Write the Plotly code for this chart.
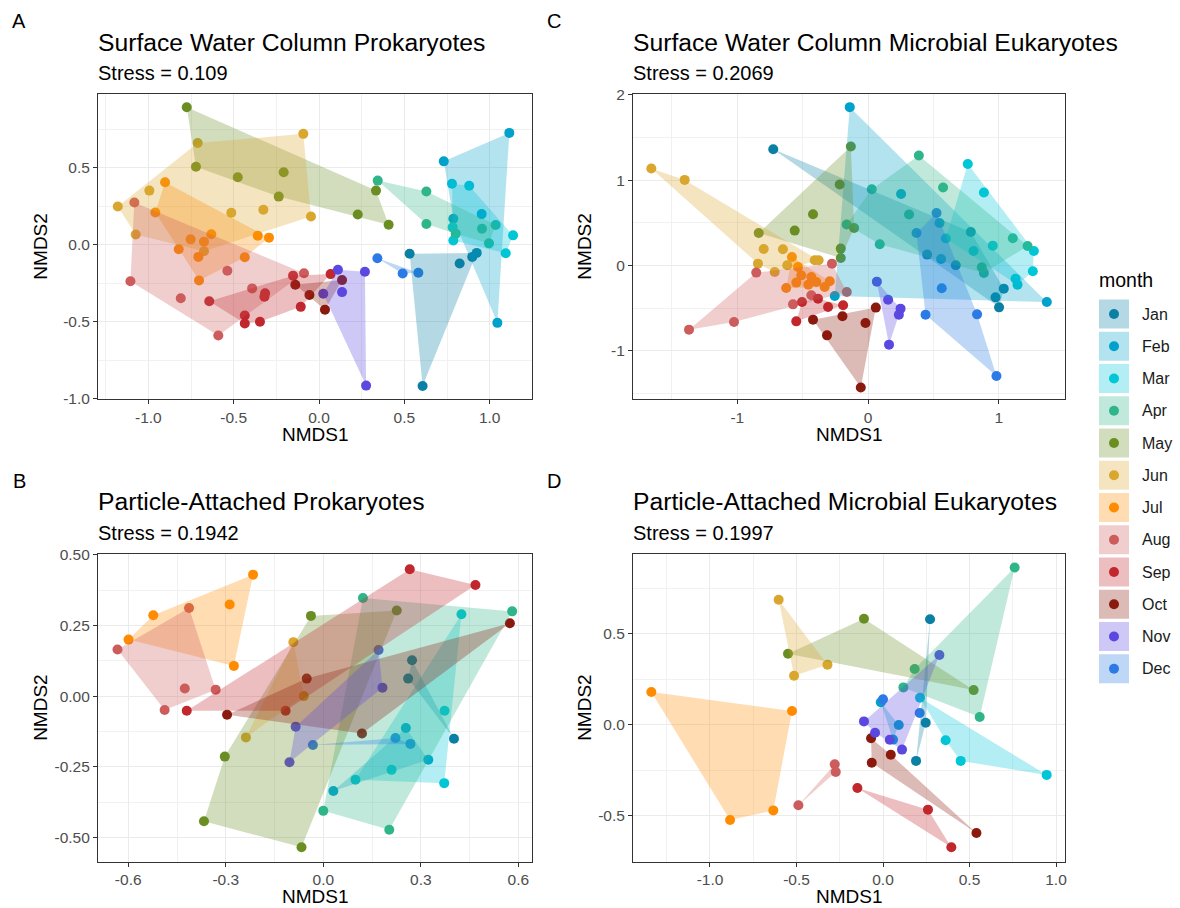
import plotly.graph_objects as go

MONTHS = ["Jan", "Feb", "Mar", "Apr", "May", "Jun", "Jul", "Aug", "Sep", "Oct", "Nov", "Dec"]
COLORS = ["#0A80A4", "#00A1CB", "#00C6D6", "#2EB68A", "#6B8E23", "#D9A62E",
          "#FF8C00", "#CD5C5C", "#C1272D", "#8B1A0E", "#5B48E0", "#2B7AE6"]

# ---------------- Panel A : Surface Water Column Prokaryotes ----------------
A_month = (["Jan"] * 5 + ["Feb"] * 5 + ["Mar"] * 6 + ["Apr"] * 7 + ["May"] * 8 + ["Jun"] * 9 +
           ["Jul"] * 11 + ["Aug"] * 7 + ["Sep"] * 9 + ["Oct"] * 4 + ["Nov"] * 5 + ["Dec"] * 3)
A_nmds1 = [0.531, 0.607, 0.898, 0.924, 0.824,
           0.731, 1.115, 1.045, 0.787, 0.953,
           0.779, 0.880, 1.137, 1.094, 0.787, 0.783,
           0.344, 0.629, 0.629, 0.801, 0.955, 1.035, 0.996,
           -0.775, -0.721, -0.476, -0.207, -0.236, 0.334, 0.227, 0.408,
           -0.711, -0.092, -0.047, -0.994, -1.179, -1.074, -0.514, -0.326, -0.674,
           -0.902, -0.959, -0.631, -0.752, -0.674, -0.822, -0.707, -0.435, -0.703, -0.359, -0.293,
           -1.082, -1.105, -0.810, -0.590, -0.537, -0.392, -0.088,
           -0.643, -0.435, -0.435, -0.346, -0.316, -0.320, -0.152, -0.107, 0.068,
           -0.139, -0.056, 0.035, 0.135,
           0.111, 0.269, 0.135, 0.025, 0.276,
           0.342, 0.490, 0.582]
A_nmds2 = [-0.058, -0.917, -0.078, -0.052, -0.121,
           0.543, 0.728, -0.507, 0.170, 0.200,
           0.397, 0.384, 0.062, -0.054, 0.028, 0.114,
           0.418, 0.347, 0.136, 0.073, 0.105, 0.129, 0.010,
           0.895, 0.508, 0.440, 0.472, 0.314, 0.353, 0.198, 0.131,
           0.662, 0.722, 0.185, 0.353, 0.250, 0.067, 0.209, 0.228, -0.041,
           0.407, 0.211, 0.069, 0.036, 0.021, -0.028, -0.078, -0.080, -0.231, 0.060, 0.047,
           0.276, -0.237, -0.347, -0.589, -0.168, -0.283, -0.184,
           -0.367, -0.459, -0.511, -0.500, -0.315, -0.337, -0.200, -0.403, -0.190,
           -0.259, -0.326, -0.421, -0.229,
           -0.162, -0.175, -0.307, -0.318, -0.915,
           -0.087, -0.186, -0.181]

# ---------------- Panel C : Surface Water Column Microbial Eukaryotes ----------------
C_month = (["Jan"] * 7 + ["Feb"] * 6 + ["Mar"] * 9 + ["Apr"] * 10 + ["May"] * 8 + ["Jun"] * 9 +
           ["Jul"] * 10 + ["Aug"] * 7 + ["Sep"] * 5 + ["Oct"] * 6 + ["Nov"] * 5 + ["Dec"] * 6)
C_nmds1 = [-0.725, 0.451, 0.670, 0.785, 0.974, 1.001, 1.037,
           -0.140, 0.252, 0.546, 0.558, 1.366, -0.255,
           0.762, 0.885, 1.267, 1.259, 1.127, 1.142, 0.953, 0.806, 0.594,
           0.388, 0.573, 0.028, 0.313, 0.089, 1.106, 1.219, 0.869, 0.885, -0.164,
           -0.836, -0.561, -0.421, -0.217, -0.209, -0.209, -0.132, -0.107,
           -1.657, -1.402, -0.798, -0.651, -0.842, -0.714, -0.618, -0.408, -0.378,
           -0.582, -0.536, -0.511, -0.434, -0.626, -0.549, -0.457, -0.332, -0.293, -0.396,
           -1.369, -1.025, -0.855, -0.276, -0.574, -0.434, -0.163,
           -0.549, -0.505, -0.383, -0.306, -0.191,
           -0.421, -0.314, -0.056, 0.059, -0.020, -0.196,
           0.067, 0.153, 0.248, 0.235, 0.160,
           0.523, 0.370, 0.439, 0.833, 0.563, 0.981]
C_nmds2 = [1.363, 0.129, 0.004, 0.394, -0.372, -0.489, -0.270,
           1.856, 0.839, 0.500, 0.078, -0.427, -0.356,
           1.191, 0.856, 0.171, -0.067, -0.153, -0.223, 0.234, 0.171, 0.317,
           1.289, 0.914, 0.894, 0.598, 0.250, 0.320, 0.230, -0.020, -0.087, 0.481,
           0.382, 0.410, 0.601, 0.950, 0.199, 0.089, 1.395, 0.441,
           1.137, 1.004, 0.195, 0.191, 0.023, -0.075, 0.004, 0.062, 0.062,
           0.100, -0.016, -0.114, -0.134, -0.262, -0.199, -0.223, -0.251, -0.184, -0.192,
           -0.750, -0.661, -0.082, 0.023, -0.454, -0.348, -0.309,
           -0.653, -0.426, -0.387, -0.485, -0.465,
           -0.633, -0.817, -1.427, -0.492, -0.673, -0.594,
           -0.188, -0.399, -0.504, -0.575, -0.926,
           0.617, 0.382, -0.575, -0.571, -0.266, -1.294]

# ---------------- Panel B : Particle-Attached Prokaryotes ----------------
B_month = (["Jan"] * 3 + ["Feb"] * 3 + ["Mar"] * 5 + ["Apr"] * 4 + ["May"] * 5 + ["Jun"] * 3 +
           ["Jul"] * 5 + ["Aug"] * 5 + ["Sep"] * 4 + ["Oct"] * 4 + ["Nov"] * 4 + ["Dec"] * 3)
B_nmds1 = [0.273, 0.261, 0.402,
           0.031, 0.254, 0.323,
           0.425, 0.373, 0.210, 0.099, 0.372,
           0.122, 0.581, 0.000, 0.203,
           -0.038, 0.226, -0.303, -0.367, -0.067,
           -0.092, -0.060, -0.238,
           -0.216, -0.523, -0.599, -0.288, -0.275,
           -0.633, -0.413, -0.426, -0.331, -0.488,
           -0.420, -0.116, 0.266, 0.468,
           -0.296, -0.051, 0.574, 0.119,
           -0.085, -0.104, 0.170, 0.182,
           -0.032, 0.222, 0.268]
B_nmds2 = [0.127, 0.062, -0.151,
           -0.336, -0.113, -0.225,
           0.290, -0.052, -0.261, -0.296, -0.308,
           0.347, 0.300, -0.406, -0.473,
           0.284, 0.303, -0.214, -0.443, -0.535,
           0.191, 0.000, -0.146,
           0.430, 0.286, 0.200, 0.324, 0.107,
           0.165, 0.312, 0.027, 0.023, -0.049,
           -0.052, -0.052, 0.449, 0.393,
           -0.066, 0.062, 0.258, -0.132,
           -0.108, -0.234, 0.163, 0.030,
           -0.173, -0.148, -0.169]

# ---------------- Panel D : Particle-Attached Microbial Eukaryotes ----------------
D_month = (["Jan"] * 3 + ["Feb"] * 3 + ["Mar"] * 4 + ["Apr"] * 4 + ["May"] * 3 + ["Jun"] * 3 +
           ["Jul"] * 4 + ["Aug"] * 3 + ["Sep"] * 3 + ["Oct"] * 4 + ["Nov"] * 5 + ["Dec"] * 2)
D_nmds1 = [0.272, 0.191, 0.247,
           -0.013, 0.091, 0.058,
           0.214, 0.946, 0.362, 0.449,
           0.761, 0.559, 0.183, 0.118,
           -0.549, -0.110, 0.524,
           -0.603, -0.321, -0.514,
           -1.339, -0.526, -0.634, -0.884,
           -0.489, -0.279, -0.273,
           -0.148, 0.260, 0.395,
           -0.069, -0.065, 0.045, 0.540,
           0.326, -0.110, -0.046, 0.039, 0.110,
           0.000, 0.212]
D_nmds2 = [0.579, -0.199, 0.011,
           0.123, -0.002, -0.082,
           0.148, -0.276, -0.086, -0.199,
           0.864, 0.042, 0.306, 0.205,
           0.390, 0.582, 0.190,
           0.687, 0.330, 0.269,
           0.180, 0.075, -0.471, -0.524,
           -0.443, -0.218, -0.260,
           -0.348, -0.467, -0.674,
           -0.075, -0.209, -0.165, -0.595,
           0.383, 0.018, -0.044, -0.083, -0.137,
           0.140, 0.064]

PANEL_TITLES = ["Surface Water Column Prokaryotes", "Surface Water Column Microbial Eukaryotes",
                "Particle-Attached Prokaryotes", "Particle-Attached Microbial Eukaryotes"]
PANEL_STRESS = ["Stress = 0.109", "Stress = 0.2069", "Stress = 0.1942", "Stress = 0.1997"]
PANEL_LETTERS = ["A", "C", "B", "D"]

A_xticks = [-1.0, -0.5, 0.0, 0.5, 1.0]; A_xtext = ["-1.0", "-0.5", "0.0", "0.5", "1.0"]
A_yticks = [-1.0, -0.5, 0.0, 0.5]; A_ytext = ["-1.0", "-0.5", "0.0", "0.5"]
C_xticks = [-1, 0, 1]; C_xtext = ["-1", "0", "1"]
C_yticks = [-1, 0, 1, 2]; C_ytext = ["-1", "0", "1", "2"]
B_xticks = [-0.6, -0.3, 0.0, 0.3, 0.6]; B_xtext = ["-0.6", "-0.3", "0.0", "0.3", "0.6"]
B_yticks = [-0.5, -0.25, 0.0, 0.25, 0.5]; B_ytext = ["-0.50", "-0.25", "0.00", "0.25", "0.50"]
D_xticks = [-1.0, -0.5, 0.0, 0.5, 1.0]; D_xtext = ["-1.0", "-0.5", "0.0", "0.5", "1.0"]
D_yticks = [-0.5, 0.0, 0.5]; D_ytext = ["-0.5", "0.0", "0.5"]

# ---------------- helpers ----------------
W, H = 1180, 908


def px(x):
    return x / W


def py(y):
    return 1 - y / H


def rgba(hexc, a):
    h = hexc.lstrip("#")
    return "rgba(%d,%d,%d,%.2f)" % (int(h[0:2], 16), int(h[2:4], 16), int(h[4:6], 16), a)


def convex_hull(points):
    pts = sorted(set(points))
    if len(pts) <= 2:
        return pts

    def cross(o, a, b):
        return (a[0] - o[0]) * (b[1] - o[1]) - (a[1] - o[1]) * (b[0] - o[0])

    lower = []
    for p in pts:
        while len(lower) >= 2 and cross(lower[-2], lower[-1], p) <= 0:
            lower.pop()
        lower.append(p)
    upper = []
    for p in reversed(pts):
        while len(upper) >= 2 and cross(upper[-2], upper[-1], p) <= 0:
            upper.pop()
        upper.append(p)
    return lower[:-1] + upper[:-1]


def minor_vals(major):
    step = major[1] - major[0]
    return [major[0] - step / 2] + [m + step / 2 for m in major]


fig = go.Figure()

panels = [
    (A_month, A_nmds1, A_nmds2, "x", "y"),
    (C_month, C_nmds1, C_nmds2, "x2", "y2"),
    (B_month, B_nmds1, B_nmds2, "x3", "y3"),
    (D_month, D_nmds1, D_nmds2, "x4", "y4"),
]

for months, xs, ys, xa, ya in panels:
    # points first; translucent hulls overlay them as in the original
    for mi, m in enumerate(MONTHS):
        mx = [x for x, mm in zip(xs, months) if mm == m]
        my = [y for y, mm in zip(ys, months) if mm == m]
        fig.add_trace(go.Scatter(x=mx, y=my, mode="markers", xaxis=xa, yaxis=ya,
                                 marker=dict(size=10, color=COLORS[mi], line=dict(width=0)),
                                 showlegend=False, hoverinfo="skip"))
    for mi, m in enumerate(MONTHS):
        pts = [(x, y) for x, y, mm in zip(xs, ys, months) if mm == m]
        hull = convex_hull(pts)
        if len(hull) < 2:
            continue
        hx = [p[0] for p in hull] + [hull[0][0]]
        hy = [p[1] for p in hull] + [hull[0][1]]
        fig.add_trace(go.Scatter(x=hx, y=hy, mode="lines", fill="toself", xaxis=xa, yaxis=ya,
                                 fillcolor=rgba(COLORS[mi], 0.3),
                                 line=dict(width=0, color=rgba(COLORS[mi], 0)),
                                 showlegend=False, hoverinfo="skip"))

TICKFONT = dict(family="Liberation Sans, Arial, sans-serif", size=15.5, color="#4D4D4D")


def axis_style(domain, rng, tickvals, ticktext, anchor):
    return dict(domain=domain, range=rng, anchor=anchor, tickmode="array", tickvals=tickvals,
                ticktext=ticktext, showline=True, mirror=True, linecolor="#333333", linewidth=1.1,
                ticks="outside", ticklen=4, tickwidth=1.1, tickcolor="#333333",
                showgrid=True, gridcolor="#EBEBEB", gridwidth=1.2, zeroline=False,
                tickfont=TICKFONT, automargin=False,
                minor=dict(tickmode="array", tickvals=minor_vals(tickvals), showgrid=True,
                           gridcolor="#F1F1F1", gridwidth=0.7, ticks=""))


LX = [px(98), px(532)]
RX = [px(633), px(1065)]
TY = [py(399.3), py(94)]
BY = [py(861.7), py(554)]

fig.update_layout(
    width=W, height=H, margin=dict(l=0, r=0, t=0, b=0, pad=0, autoexpand=False),
    paper_bgcolor="white", plot_bgcolor="white",
    font=dict(family="Liberation Sans, Arial, sans-serif", color="black"),
    showlegend=False,
    xaxis=axis_style(LX, [-1.295, 1.248], A_xticks, A_xtext, "y"),
    yaxis=axis_style(TY, [-1.004, 0.981], A_yticks, A_ytext, "x"),
    xaxis2=axis_style(RX, [-1.797, 1.505], C_xticks, C_xtext, "y2"),
    yaxis2=axis_style(TY, [-1.566, 2.01], C_yticks, C_ytext, "x2"),
    xaxis3=axis_style(LX, [-0.693, 0.642], B_xticks, B_xtext, "y3"),
    yaxis3=axis_style(BY, [-0.586, 0.503], B_yticks, B_ytext, "x3"),
    xaxis4=axis_style(RX, [-1.445, 1.052], D_xticks, D_xtext, "y4"),
    yaxis4=axis_style(BY, [-0.753, 0.938], D_yticks, D_ytext, "x4"),
)

ann = []


def add_text(x, y, text, size, color="black", xanchor="left", angle=0):
    ann.append(dict(x=px(x), y=py(y), xref="paper", yref="paper", text=text, showarrow=False,
                    xanchor=xanchor, yanchor="middle", textangle=angle,
                    font=dict(size=size, color=color)))


panel_pos = [(98, 94, 399.3, 532), (633, 94, 399.3, 1065), (98, 554, 861.7, 532), (633, 554, 861.7, 1065)]
for i, (x0, ytop, ybot, x1) in enumerate(panel_pos):
    dy = ytop - 94
    add_text(x0 - 79, 21 + dy, PANEL_LETTERS[i], 20, xanchor="center")
    add_text(x0 - 2, 42 + dy, PANEL_TITLES[i], 24.7)
    add_text(x0 - 2, 73 + dy, PANEL_STRESS[i], 20)
    add_text((x0 + x1) / 2, ybot + 35, "NMDS1", 19, xanchor="center")
    ylab_x = 41 if x0 < 300 else 585
    add_text(ylab_x, (ytop + ybot) / 2, "NMDS2", 19, xanchor="center", angle=-90)

# legend
add_text(1097, 280, "month", 19.5)
shapes = []
for i, m in enumerate(MONTHS):
    cy = 314 + i * 32.25
    shapes.append(dict(type="rect", xref="paper", yref="paper", x0=px(1099), x1=px(1129),
                       y0=py(cy + 14.5), y1=py(cy - 14.5), fillcolor=rgba(COLORS[i], 0.3),
                       line=dict(width=0)))
    shapes.append(dict(type="circle", xref="paper", yref="paper", xsizemode="pixel", ysizemode="pixel",
                       xanchor=px(1114), yanchor=py(cy), x0=-5, x1=5, y0=-5, y1=5,
                       fillcolor=COLORS[i], line=dict(width=0)))
    add_text(1140, cy, m, 16, color="#1A1A1A")

fig.update_layout(annotations=ann, shapes=shapes)
fig.write_html("out.html")
